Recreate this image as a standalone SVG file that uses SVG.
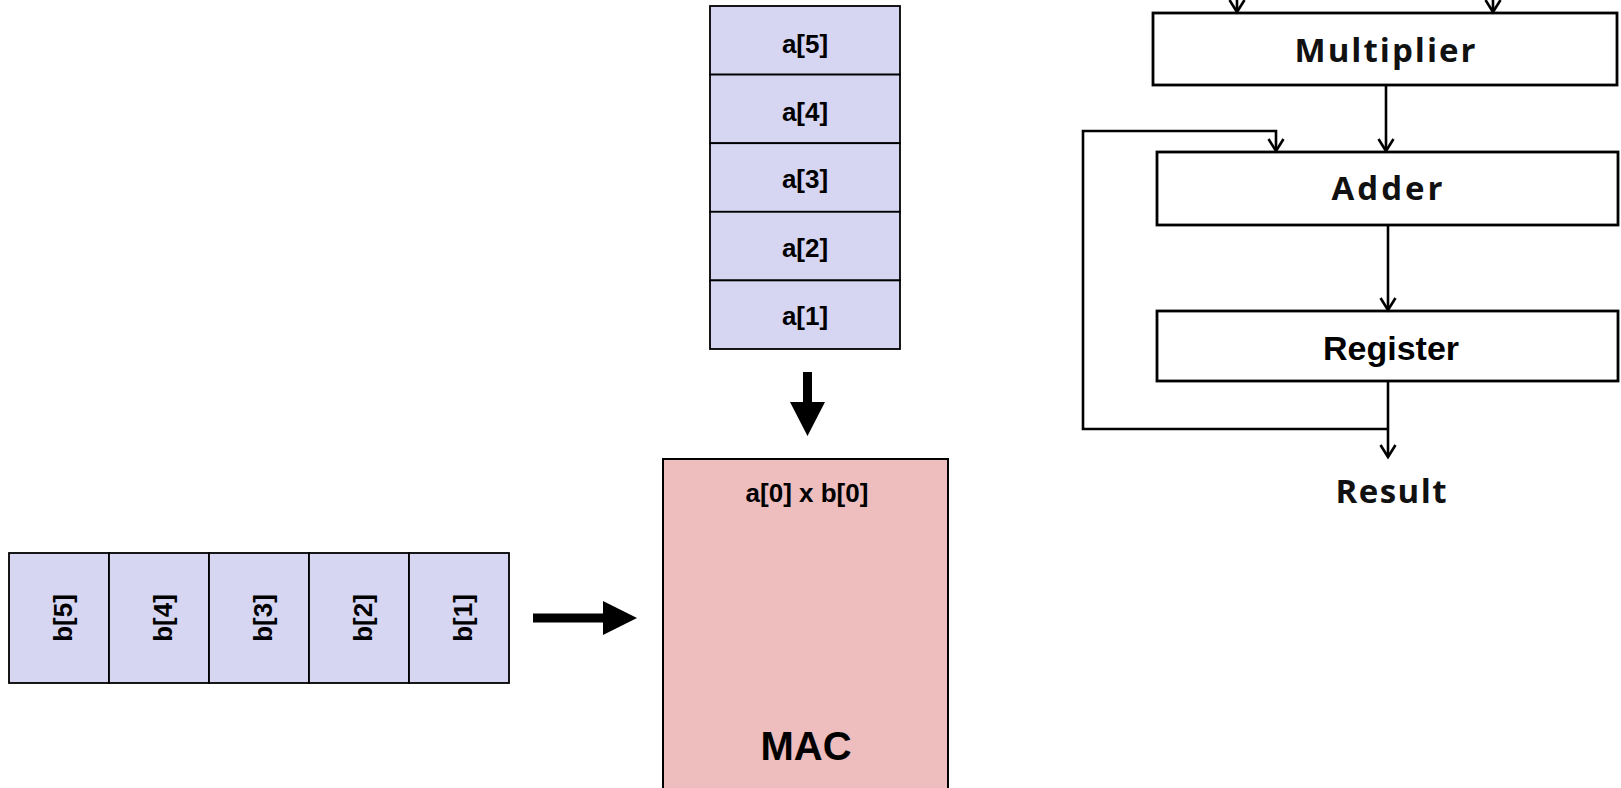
<svg xmlns="http://www.w3.org/2000/svg" width="1621" height="788" viewBox="0 0 1621 788">
<style>
.cell{fill:#D6D6F3;stroke:#000;stroke-width:1.8}
.mac{fill:#EEBDBD;stroke:#000;stroke-width:2}
.lbl{font-family:"Liberation Sans",Arial,sans-serif;font-weight:bold;font-size:26px;fill:#000;text-anchor:middle}
.box{fill:#fff;stroke:#000;stroke-width:2.8}
.cal{font-family:"Open Sans","Noto Sans",sans-serif;font-weight:bold;font-size:33px;fill:#111;text-anchor:middle}
.ln{fill:none;stroke:#000;stroke-width:2.6}
.big{fill:#000;stroke:none}
</style>
<defs>
<marker id="v" markerUnits="userSpaceOnUse" markerWidth="30" markerHeight="30" refX="0" refY="0" orient="auto" overflow="visible">
<path d="M-12,-7.5 L0,0 L-12,7.5" fill="none" stroke="#000" stroke-width="2.6"/>
</marker>
</defs>

<g id="a-stack">
<g id="a5"><rect class="cell" x="710" y="6" width="190" height="68.6"/><text class="lbl" x="805" y="53">a[5]</text></g>
<g id="a4"><rect class="cell" x="710" y="74.6" width="190" height="68.6"/><text class="lbl" x="805" y="121">a[4]</text></g>
<g id="a3"><rect class="cell" x="710" y="143.2" width="190" height="68.6"/><text class="lbl" x="805" y="188">a[3]</text></g>
<g id="a2"><rect class="cell" x="710" y="211.8" width="190" height="68.6"/><text class="lbl" x="805" y="257">a[2]</text></g>
<g id="a1"><rect class="cell" x="710" y="280.4" width="190" height="68.6"/><text class="lbl" x="805" y="325">a[1]</text></g>
</g>

<g id="b-row">
<g id="b5"><rect class="cell" x="9" y="553" width="100" height="130"/><text class="lbl" transform="translate(72,618) rotate(-90)" x="0" y="0">b[5]</text></g>
<g id="b4"><rect class="cell" x="109" y="553" width="100" height="130"/><text class="lbl" transform="translate(172,618) rotate(-90)" x="0" y="0">b[4]</text></g>
<g id="b3"><rect class="cell" x="209" y="553" width="100" height="130"/><text class="lbl" transform="translate(272,618) rotate(-90)" x="0" y="0">b[3]</text></g>
<g id="b2"><rect class="cell" x="309" y="553" width="100" height="130"/><text class="lbl" transform="translate(372,618) rotate(-90)" x="0" y="0">b[2]</text></g>
<g id="b1"><rect class="cell" x="409" y="553" width="100" height="130"/><text class="lbl" transform="translate(472,618) rotate(-90)" x="0" y="0">b[1]</text></g>
</g>

<g id="mac">
<rect class="mac" x="663" y="459" width="285" height="340"/>
<text class="lbl" x="807" y="502">a[0] x b[0]</text>
<text class="lbl" x="806" y="760" style="font-size:40px">MAC</text>
</g>

<g id="multiplier"><rect class="box" x="1153" y="13" width="464" height="72"/><text class="cal" x="1385" y="62" textLength="181" lengthAdjust="spacing">Multiplier</text></g>
<g id="adder"><rect class="box" x="1157" y="152" width="461" height="73"/><text class="cal" x="1387" y="200" textLength="111" lengthAdjust="spacing">Adder</text></g>
<g id="register"><rect class="box" x="1157" y="311" width="461" height="70"/><text class="lbl" x="1391" y="360" style="font-size:34px">Register</text></g>
<g id="result"><text class="cal" x="1391" y="503" textLength="111" lengthAdjust="spacing">Result</text></g>

<g id="connectors">
<path class="big" d="M803,372 H812 V402 H825 L807.5,436 L790,402 H803 Z"/>
<path class="big" d="M533,613.5 H603 V601 L637,618 L603,635 V622.5 H533 Z"/>
<line class="ln" x1="1237" y1="-20" x2="1237" y2="12" marker-end="url(#v)"/>
<line class="ln" x1="1493" y1="-20" x2="1493" y2="12" marker-end="url(#v)"/>
<line class="ln" x1="1386" y1="85" x2="1386" y2="151" marker-end="url(#v)"/>
<line class="ln" x1="1388" y1="225" x2="1388" y2="310" marker-end="url(#v)"/>
<line class="ln" x1="1388" y1="381" x2="1388" y2="457" marker-end="url(#v)"/>
<polyline class="ln" points="1388,429 1083,429 1083,131 1276,131 1276,151" marker-end="url(#v)"/>
</g>
</svg>
